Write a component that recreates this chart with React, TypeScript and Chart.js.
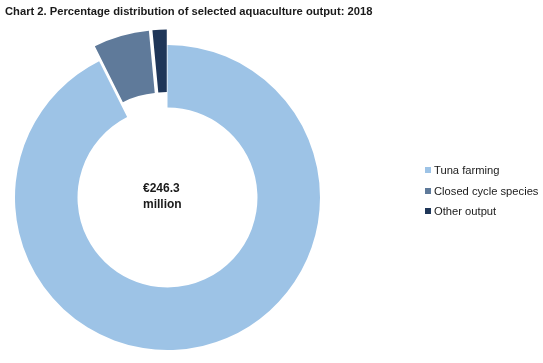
import React, { useEffect, useRef } from "react";
import { Chart, registerables } from "chart.js";
Chart.register(...registerables);

const categories = ["Tuna farming", "Closed cycle species", "Other output"];
const shares = [92.6, 5.9, 1.5];
const colors = ["#9DC3E6", "#5F7A9A", "#1F3658"];
const explodeDistances = [0, 15.5, 15.5];
const centerLines = ["€246.3", "million"];
const titleText = "Chart 2. Percentage distribution of selected aquaculture output: 2018";

const explodePlugin = {
  id: "explode",
  afterDatasetsUpdate(chart: any) {
    const meta = chart.getDatasetMeta(0);
    meta.data.forEach((arc: any, i: number) => {
      const d = explodeDistances[i];
      if (!d) return;
      const mid = (arc.startAngle + arc.endAngle) / 2;
      arc.x += Math.cos(mid) * d;
      arc.y += Math.sin(mid) * d;
    });
  },
};

export default function App() {
  const ref = useRef<HTMLCanvasElement>(null);
  useEffect(() => {
    document.body.style.margin = "0";
    document.body.style.overflow = "hidden";
    const chart = new Chart(ref.current!, {
      type: "doughnut",
      data: {
        labels: categories,
        datasets: [{ data: shares, backgroundColor: colors, borderWidth: 0, hoverOffset: 0 }],
      },
      options: {
        animation: false,
        responsive: false,
        events: [],
        cutout: "59%",
        layout: { padding: { left: 15, top: 45, right: 223, bottom: 13 } },
        plugins: { legend: { display: false }, tooltip: { enabled: false }, title: { display: false } },
      },
      plugins: [explodePlugin],
    });
    return () => chart.destroy();
  }, []);
  const font = "Arial, 'Liberation Sans', sans-serif";
  return (
    <div style={{ position: "relative", width: 543, height: 363, overflow: "hidden", background: "#fff", fontFamily: font, color: "#1a1a1a" }}>
      <canvas ref={ref} width={543} height={363} style={{ position: "absolute", left: 0, top: 0 }} />
      <div style={{ position: "absolute", left: 5, top: 5, fontSize: 11.2, fontWeight: "bold", whiteSpace: "nowrap" }}>{titleText}</div>
      <div style={{ position: "absolute", left: 143, top: 180, fontSize: 12, fontWeight: "bold", lineHeight: "16px" }}>
        {centerLines.map((l) => (<div key={l}>{l}</div>))}
      </div>
      <div style={{ position: "absolute", left: 425, top: 160, fontSize: 11.2, lineHeight: "20.5px" }}>
        {categories.map((c, i) => (
          <div key={c} style={{ display: "flex", alignItems: "center", whiteSpace: "nowrap" }}>
            <span style={{ display: "inline-block", width: 6, height: 6, background: colors[i], marginRight: 3 }} />
            {c}
          </div>
        ))}
      </div>
    </div>
  );
}
